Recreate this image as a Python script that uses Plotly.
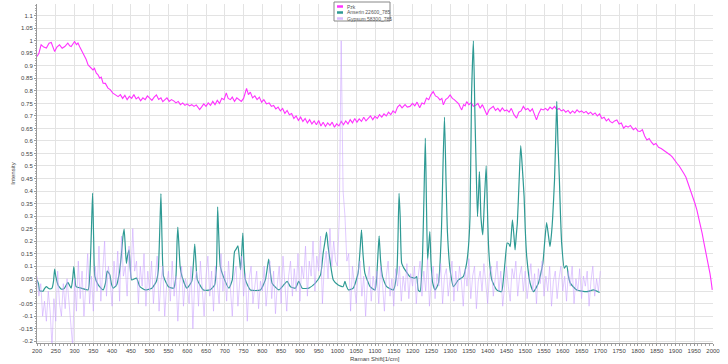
import plotly.graph_objects as go

# ---------------- data ----------------
pzk_x = [200,205,211,218,225,232,238,243,247,253,260,267,274,282,287,291,296,300,305,309,314,318,322,327,331,336,342,349,353,358,362,367,371,376,382,389,395,402,408,416,422,428,434,440,446,452,458,464,470,476,482,488,494,500,506,512,518,524,530,535,540,546,552,558,564,570,576,582,588,594,600,606,612,618,624,628,633,638,644,650,656,662,668,674,680,686,692,698,704,709,715,720,726,732,738,744,750,755,758,763,768,774,780,786,792,798,804,811,818,824,830,836,842,848,854,860,866,872,878,884,890,896,902,908,914,920,926,932,938,944,950,956,962,968,974,980,986,992,998,1004,1010,1016,1022,1028,1034,1040,1046,1052,1058,1064,1070,1076,1082,1088,1094,1100,1106,1112,1118,1124,1130,1136,1142,1148,1154,1160,1166,1172,1180,1186,1193,1200,1206,1212,1219,1225,1231,1237,1243,1249,1255,1261,1267,1273,1278,1282,1288,1294,1300,1306,1311,1317,1323,1327,1331,1336,1340,1344,1350,1356,1362,1368,1374,1380,1386,1392,1398,1404,1410,1415,1421,1427,1433,1439,1445,1451,1457,1463,1470,1477,1483,1489,1495,1501,1507,1513,1519,1525,1530,1536,1542,1548,1554,1560,1566,1572,1578,1584,1590,1596,1602,1608,1614,1620,1626,1632,1638,1644,1650,1656,1662,1668,1674,1680,1686,1692,1698,1704,1710,1716,1722,1726,1732,1738,1744,1750,1756,1762,1768,1774,1780,1788,1794,1800,1806,1812,1818,1824,1830,1836,1842,1848,1855,1862,1868,1874,1880,1886,1892,1898,1904,1910,1916,1922,1928,1934,1940,1946,1952,1957,1962,1967,1971,1975,1980,1984,1988,1992,1995,1998]
pzk_y = [0.937,0.95,0.984,0.975,0.971,0.99,0.993,0.97,0.957,0.975,0.984,0.97,0.977,0.991,0.98,0.977,0.99,0.997,0.985,0.991,0.975,0.964,0.951,0.937,0.925,0.904,0.895,0.884,0.89,0.871,0.865,0.851,0.855,0.831,0.83,0.811,0.805,0.791,0.785,0.777,0.785,0.77,0.782,0.765,0.778,0.77,0.785,0.768,0.775,0.76,0.772,0.765,0.78,0.771,0.762,0.775,0.784,0.766,0.772,0.757,0.765,0.772,0.758,0.765,0.76,0.752,0.758,0.745,0.752,0.742,0.748,0.74,0.745,0.738,0.744,0.735,0.725,0.735,0.748,0.738,0.752,0.742,0.758,0.745,0.762,0.75,0.77,0.765,0.792,0.77,0.765,0.775,0.758,0.772,0.765,0.758,0.77,0.79,0.81,0.785,0.795,0.772,0.78,0.765,0.775,0.755,0.765,0.748,0.752,0.738,0.742,0.728,0.735,0.72,0.73,0.71,0.722,0.705,0.71,0.69,0.7,0.682,0.695,0.678,0.69,0.672,0.685,0.668,0.68,0.665,0.682,0.66,0.675,0.658,0.672,0.662,0.675,0.655,0.668,0.66,0.678,0.665,0.68,0.668,0.685,0.672,0.69,0.675,0.688,0.678,0.695,0.68,0.69,0.7,0.685,0.698,0.69,0.705,0.695,0.708,0.7,0.715,0.705,0.72,0.712,0.735,0.744,0.732,0.745,0.735,0.738,0.75,0.74,0.755,0.733,0.752,0.748,0.771,0.765,0.785,0.797,0.78,0.775,0.764,0.77,0.744,0.765,0.772,0.784,0.77,0.765,0.757,0.748,0.735,0.724,0.745,0.74,0.757,0.745,0.752,0.738,0.742,0.75,0.731,0.745,0.725,0.704,0.725,0.732,0.738,0.722,0.73,0.718,0.732,0.72,0.724,0.715,0.73,0.705,0.691,0.715,0.72,0.738,0.725,0.73,0.718,0.728,0.705,0.684,0.71,0.728,0.724,0.73,0.722,0.735,0.728,0.738,0.725,0.73,0.72,0.725,0.715,0.722,0.71,0.72,0.712,0.724,0.715,0.72,0.712,0.718,0.708,0.715,0.705,0.712,0.7,0.708,0.69,0.695,0.68,0.688,0.678,0.672,0.68,0.684,0.668,0.672,0.651,0.66,0.655,0.662,0.645,0.652,0.64,0.638,0.645,0.62,0.604,0.61,0.595,0.585,0.59,0.575,0.57,0.564,0.555,0.552,0.544,0.535,0.525,0.511,0.5,0.488,0.471,0.455,0.43,0.405,0.38,0.35,0.325,0.295,0.26,0.232,0.2,0.165,0.138,0.11,0.07,0.04,0.005]

ans_x = [200,204,207,212,216,220,225,230,234,240,244,247,250,256,265,273,282,286,291,295,298,301,304,318,336,340,342,345,348,351,354,363,376,382,387,390,394,398,403,412,420,425,429,432,435,438,441,445,448,452,465,474,488,506,518,523,527,530,533,537,550,564,570,573,575,578,581,586,599,612,616,620,623,627,643,661,673,678,681,684,688,696,711,720,726,731,735,739,742,745,748,751,755,768,795,808,813,817,821,826,844,857,866,875,888,897,906,924,941,955,962,967,971,975,980,989,1002,1015,1020,1024,1029,1042,1055,1060,1064,1068,1073,1087,1100,1104,1108,1111,1115,1120,1131,1149,1158,1161,1164,1167,1171,1175,1180,1193,1206,1211,1215,1220,1226,1230,1234,1237,1240,1243,1246,1249,1253,1260,1269,1277,1281,1285,1289,1293,1300,1309,1322,1335,1344,1349,1353,1357,1362,1366,1370,1373,1376,1378,1380,1382,1387,1391,1396,1399,1402,1406,1411,1424,1437,1442,1446,1452,1456,1460,1463,1466,1470,1473,1476,1479,1484,1488,1492,1497,1500,1504,1513,1522,1535,1547,1552,1557,1562,1566,1570,1573,1578,1581,1584,1587,1591,1594,1597,1604,1608,1611,1615,1620,1637,1664,1682,1698]
ans_y = [0.045,0.03,0.002,0.0,0.0,0.01,0.018,0.012,0.009,0.012,0.04,0.088,0.06,0.025,0.008,0.012,0.035,0.025,0.012,0.05,0.098,0.05,0.018,0.012,0.005,0.05,0.111,0.25,0.392,0.2,0.059,0.025,0.005,0.03,0.08,0.075,0.065,0.03,0.012,0.025,0.08,0.152,0.22,0.248,0.18,0.111,0.14,0.165,0.1,0.045,0.052,0.018,0.005,0.012,0.04,0.085,0.25,0.39,0.2,0.059,0.018,0.012,0.06,0.2,0.256,0.18,0.1,0.059,0.012,0.039,0.1,0.188,0.12,0.045,0.005,0.005,0.025,0.1,0.337,0.22,0.1,0.059,0.012,0.045,0.158,0.17,0.181,0.13,0.085,0.15,0.232,0.12,0.045,0.005,0.005,0.045,0.09,0.128,0.08,0.032,0.005,0.025,0.039,0.018,0.012,0.039,0.012,0.012,0.032,0.065,0.152,0.2,0.236,0.18,0.125,0.045,0.025,0.018,0.039,0.02,0.005,0.012,0.072,0.16,0.245,0.15,0.072,0.018,0.005,0.045,0.15,0.221,0.12,0.058,0.018,0.005,0.072,0.2,0.391,0.3,0.112,0.098,0.085,0.058,0.052,0.058,0.005,-0.002,0.12,0.35,0.611,0.35,0.125,0.18,0.238,0.12,0.038,0.005,0.032,0.245,0.5,0.695,0.45,0.232,0.085,0.018,0.045,0.058,0.112,0.18,0.298,0.777,1.0,0.711,0.45,0.298,0.4,0.478,0.4,0.298,0.225,0.35,0.501,0.35,0.192,0.1,0.045,0.005,-0.002,0.05,0.112,0.192,0.19,0.178,0.23,0.285,0.22,0.165,0.22,0.272,0.45,0.581,0.5,0.378,0.25,0.138,0.032,-0.002,0.032,0.112,0.2,0.274,0.22,0.178,0.23,0.292,0.444,0.6,0.758,0.6,0.444,0.3,0.192,0.092,0.1,0.1,0.06,0.032,0.005,-0.002,0.005,-0.005]

gyp_x = list(range(200, 1705, 5))
gyp_y = [
 0.06,-0.02,0.03,-0.10,-0.04,-0.12,0.00,-0.08,-0.22,-0.03,-0.12,0.08,-0.05,-0.10,0.03,-0.07,0.05,-0.04,-0.10,-0.22,
 0.05,-0.08,0.12,-0.03,0.08,-0.10,0.02,0.15,-0.05,0.06,-0.08,0.10,0.00,0.18,-0.04,0.08,0.20,-0.02,0.10,0.04,
 -0.06,0.12,0.02,0.16,-0.04,0.22,0.06,0.10,-0.02,0.18,0.05,0.25,0.08,0.12,-0.05,0.10,0.02,0.15,-0.06,0.08,
 0.00,0.12,-0.05,0.06,0.14,-0.08,0.04,0.10,-0.10,0.02,0.08,-0.04,0.12,-0.02,0.06,-0.12,0.03,0.10,-0.06,0.05,
 0.02,-0.05,0.10,-0.15,0.04,0.08,-0.06,0.12,0.00,-0.10,0.06,0.14,-0.02,0.08,-0.08,0.10,0.03,-0.05,0.15,0.00,
 0.08,-0.04,0.12,0.02,-0.10,0.06,0.10,-0.06,0.04,0.14,-0.02,0.07,-0.12,0.05,0.10,-0.05,0.02,0.08,-0.07,0.04,
 0.00,0.10,-0.06,0.05,0.12,-0.03,0.08,-0.09,0.03,0.10,-0.05,0.14,0.02,-0.08,0.06,0.12,-0.02,0.09,0.00,0.15,
 -0.04,0.10,0.05,0.18,-0.02,0.12,0.06,0.20,0.00,0.14,0.08,0.22,-0.05,0.10,0.16,0.05,0.25,0.10,0.20,0.12,
 0.10,0.30,1.00,0.40,0.30,0.12,0.15,-0.08,0.10,0.02,-0.05,0.08,0.12,-0.02,0.06,-0.10,0.04,0.10,-0.04,0.06,
 0.00,0.08,-0.05,0.10,0.03,-0.08,0.06,0.12,-0.02,0.05,-0.06,0.09,0.02,0.10,-0.04,0.06,0.00,0.11,-0.03,0.07,
 0.02,0.10,-0.05,0.06,0.12,-0.02,0.08,0.00,0.13,-0.06,0.05,0.10,-0.03,0.07,0.02,0.11,-0.05,0.06,0.09,-0.02,
 0.05,0.12,-0.04,0.08,0.00,0.10,0.04,-0.06,0.09,0.02,0.13,-0.03,0.06,0.10,-0.07,0.04,0.08,0.00,0.11,0.03,
 -0.05,0.07,0.10,-0.02,0.05,0.12,0.00,0.08,-0.06,0.04,0.10,0.02,-0.04,0.09,0.05,0.12,-0.02,0.06,0.10,0.00,
 0.08,-0.03,0.05,0.11,0.00,0.07,-0.05,0.09,0.03,0.12,-0.02,0.06,0.00,0.10,-0.06,0.04,0.08,-0.03,0.05,0.10,
 0.00,0.06,-0.04,0.08,0.02,0.10,-0.05,0.05,0.00,0.09,-0.03,0.06,0.02,0.08,-0.06,0.04,0.10,-0.02,0.05,0.00,0.08]

series_names = ["Pzk", "Anserin 22600_785", "Gypsum 58300_785"]
series_colors = ["#ff33ff", "#2e9a94", "#d9bbff"]
y_tick_vals = [round(-0.2 + 0.05 * i, 2) for i in range(27)]
y_tick_text = [("%g" % v) for v in y_tick_vals]
x_tick_vals = list(range(200, 2050, 50))

# ---------------- figure ----------------
fig = go.Figure()
fig.add_trace(go.Scatter(x=pzk_x, y=pzk_y, mode="lines", name=series_names[0],
                         line=dict(color=series_colors[0], width=1.1)))
fig.add_trace(go.Scatter(x=ans_x, y=ans_y, mode="lines", name=series_names[1],
                         line=dict(color=series_colors[1], width=1.2, shape="spline", smoothing=0.5)))
fig.add_trace(go.Scatter(x=gyp_x, y=gyp_y, mode="lines", name=series_names[2],
                         line=dict(color="rgba(200,160,255,0.55)", width=1)))

ML, MR, MT, MB = 37, 15, 4, 21
W, H = 728, 364
PW, PH = W - ML - MR, H - MT - MB

def px2paper(px, py):
    return (px - ML) / PW, (H - MB - py) / PH

axis_font = dict(family="Liberation Sans", size=6, color="#444")
fig.update_layout(
    width=W, height=H,
    margin=dict(l=ML, r=MR, t=MT, b=MB, autoexpand=False),
    paper_bgcolor="white", plot_bgcolor="white",
    showlegend=False,
    xaxis=dict(range=[200, 2000], tickvals=x_tick_vals, tickfont=axis_font,
               showgrid=True, gridcolor="#e3e3e3", gridwidth=1,
               showline=True, linecolor="#999", ticks="outside", ticklen=2, tickcolor="#999",
               minor=dict(dtick=10, ticklen=2, tickcolor="#aaa", showgrid=False),
               zeroline=False, automargin=False),
    yaxis=dict(range=[-0.207, 1.147], tickvals=y_tick_vals, ticktext=y_tick_text, tickfont=axis_font,
               showgrid=True, gridcolor="#e3e3e3", gridwidth=1,
               showline=True, linecolor="#999", ticks="outside", ticklen=2, tickcolor="#999",
               minor=dict(dtick=0.01, ticklen=1, tickcolor="#aaa", showgrid=False),
               zeroline=False, automargin=False,
               title=dict(text="Intensity", font=dict(family="Liberation Sans", size=6, color="#444"), standoff=3)),
)

# x axis title placed just under the tick labels
fig.add_annotation(x=0.5, y=0, xref="paper", yref="paper", xanchor="center", yanchor="top",
                   yshift=-11, text="Raman Shift[1/cm]", showarrow=False,
                   font=dict(family="Liberation Sans", size=6, color="#444"))

# compact legend box (top centre)
bx0, by0 = px2paper(334, 21)
bx1, by1 = px2paper(390, 2)
fig.add_shape(type="rect", xref="paper", yref="paper", x0=bx0, y0=by0, x1=bx1, y1=by1,
              line=dict(color="#888", width=1), fillcolor="white", layer="above")
for i, (name, col) in enumerate(zip(series_names, series_colors)):
    row_y = 6.5 + i * 6
    sx0, sy = px2paper(337, row_y)
    sx1, _ = px2paper(343, row_y)
    fig.add_shape(type="line", xref="paper", yref="paper", x0=sx0, x1=sx1, y0=sy, y1=sy,
                  line=dict(color=col, width=2.5), layer="above")
    tx, _ = px2paper(345, row_y)
    fig.add_annotation(x=tx, y=sy, xref="paper", yref="paper", xanchor="left", yanchor="middle",
                       text=name, showarrow=False,
                       font=dict(family="Liberation Sans", size=5, color="#555"))

fig.write_html("out.html", config={"displayModeBar": False},
               post_script="document.body.style.margin='0';document.body.style.overflow='hidden';")
